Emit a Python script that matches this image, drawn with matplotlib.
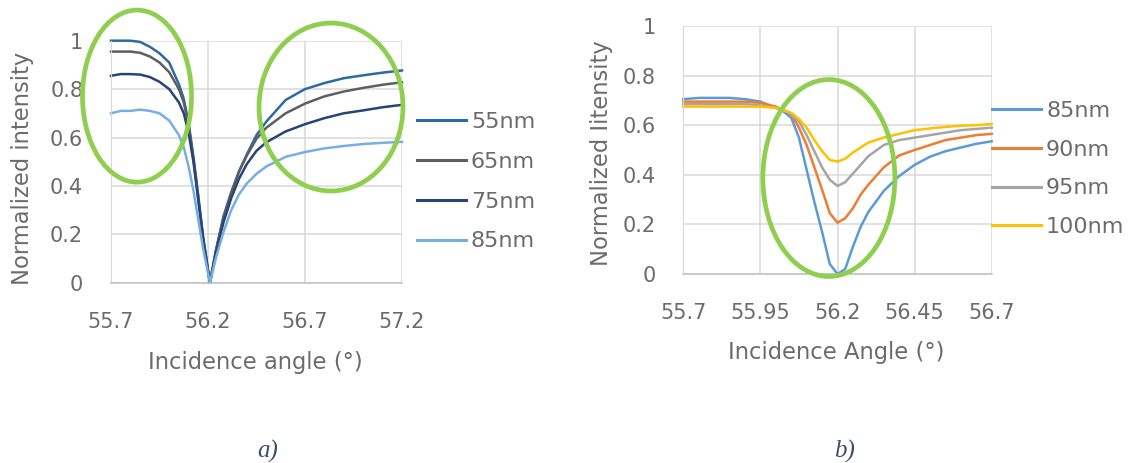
import matplotlib
matplotlib.use("Agg")
import matplotlib.pyplot as plt
from matplotlib.patches import Ellipse

# ---------------- data: panel a ----------------
angle_a = [55.70, 55.75, 55.80, 55.85, 55.90, 55.95, 56.00, 56.05, 56.075, 56.10,
           56.125, 56.15, 56.175, 56.21, 56.24, 56.28, 56.32, 56.36, 56.40, 56.45,
           56.50, 56.60, 56.70, 56.80, 56.90, 57.00, 57.10, 57.20]
i55 = [1.0, 1.0, 1.0, 0.995, 0.975, 0.948, 0.91, 0.82, 0.76, 0.66,
       0.52, 0.36, 0.19, 0.0, 0.13, 0.27, 0.37, 0.46, 0.53, 0.61,
       0.665, 0.755, 0.80, 0.825, 0.845, 0.857, 0.868, 0.877]
i65 = [0.955, 0.955, 0.955, 0.95, 0.935, 0.91, 0.87, 0.80, 0.745, 0.65,
       0.51, 0.35, 0.18, 0.0, 0.13, 0.275, 0.375, 0.46, 0.525, 0.595,
       0.64, 0.70, 0.74, 0.77, 0.79, 0.805, 0.818, 0.828]
i75 = [0.855, 0.862, 0.862, 0.86, 0.85, 0.83, 0.80, 0.745, 0.70, 0.62,
       0.50, 0.34, 0.18, 0.0, 0.12, 0.25, 0.35, 0.43, 0.49, 0.545,
       0.58, 0.625, 0.655, 0.68, 0.70, 0.712, 0.725, 0.735]
i85a = [0.70, 0.71, 0.71, 0.715, 0.71, 0.70, 0.67, 0.61, 0.56, 0.48,
        0.38, 0.26, 0.14, 0.0, 0.10, 0.21, 0.30, 0.365, 0.41, 0.45,
        0.48, 0.52, 0.54, 0.555, 0.565, 0.573, 0.578, 0.582]
labels_a = ["55nm", "65nm", "75nm", "85nm"]
colors_a = ["#2B6AA3", "#5E5E5E", "#254478", "#77AEE3"]

# ---------------- data: panel b ----------------
angle_b = [55.70, 55.75, 55.80, 55.85, 55.90, 55.95, 56.00, 56.025, 56.05, 56.075,
           56.10, 56.125, 56.15, 56.175, 56.20, 56.225, 56.25, 56.275, 56.30, 56.35,
           56.40, 56.45, 56.50, 56.55, 56.60, 56.65, 56.70]
i85b = [0.705, 0.71, 0.71, 0.71, 0.705, 0.695, 0.67, 0.655, 0.63, 0.55,
        0.42, 0.29, 0.17, 0.04, 0.0, 0.02, 0.11, 0.19, 0.25, 0.335,
        0.395, 0.44, 0.473, 0.495, 0.51, 0.525, 0.535]
i90 = [0.695, 0.695, 0.695, 0.695, 0.695, 0.69, 0.675, 0.66, 0.645, 0.59,
       0.52, 0.43, 0.34, 0.245, 0.207, 0.225, 0.265, 0.32, 0.36, 0.43,
       0.478, 0.50, 0.52, 0.54, 0.55, 0.56, 0.565]
i95 = [0.685, 0.685, 0.685, 0.685, 0.685, 0.68, 0.67, 0.66, 0.645, 0.615,
       0.56, 0.495, 0.43, 0.38, 0.355, 0.37, 0.405, 0.44, 0.475, 0.52,
       0.54, 0.55, 0.56, 0.57, 0.58, 0.585, 0.59]
i100 = [0.675, 0.675, 0.675, 0.675, 0.675, 0.675, 0.67, 0.66, 0.65, 0.625,
        0.59, 0.54, 0.495, 0.46, 0.453, 0.465, 0.49, 0.51, 0.53, 0.55,
        0.565, 0.58, 0.587, 0.593, 0.598, 0.60, 0.605]
labels_b = ["85nm", "90nm", "95nm", "100nm"]
colors_b = ["#5B9BD5", "#ED7D31", "#A5A5A5", "#FFC000"]

xticks_a = [55.7, 56.2, 56.7, 57.2]
xticklabels_a = ["55.7", "56.2", "56.7", "57.2"]
xticks_b = [55.7, 55.95, 56.2, 56.45, 56.7]
xticklabels_b = ["55.7", "55.95", "56.2", "56.45", "56.7"]
yticks = [0, 0.2, 0.4, 0.6, 0.8, 1]
yticklabels = ["0", "0.2", "0.4", "0.6", "0.8", "1"]

plt.rcParams['font.family'] = ['DejaVu Sans']
W, H = 1134, 463
fig = plt.figure(figsize=(W / 100, H / 100), dpi=100)
fig.patch.set_facecolor("white")

TXT = "#6B6B6B"
FS_TICK = 15
FS_LEG = 16
FS_LAB = 16.3
GREEN = "#8FCF4F"


def px_axes(l, t, r, b):
    return fig.add_axes([l / W, 1 - b / H, (r - l) / W, (b - t) / H])


def style(ax, xticks, xtl, xlim):
    ax.set_xlim(*xlim)
    ax.set_ylim(0, 1)
    ax.set_xticks(xticks)
    ax.set_xticklabels(xtl)
    ax.set_yticks(yticks)
    ax.set_yticklabels(yticklabels)
    ax.grid(True, color="#D9D9D9", linewidth=1.1)
    ax.set_axisbelow(True)
    for s in ["top", "right"]:
        ax.spines[s].set_visible(False)
    ax.spines["left"].set_color("#D9D9D9")
    ax.spines["bottom"].set_color("#BFBFBF")
    ax.spines["bottom"].set_linewidth(1.1)
    ax.tick_params(length=0, labelsize=FS_TICK, labelcolor=TXT)
    ax.tick_params(axis="x", pad=21)
    ax.tick_params(axis="y", pad=20)


def make_legend(ax, x0, y0, spacing):
    leg = ax.legend(loc="upper left", bbox_to_anchor=(x0 / W, 1 - y0 / H),
                    bbox_transform=fig.transFigure, frameon=False, fontsize=FS_LEG,
                    handlelength=2.2, handletextpad=0.23, labelspacing=spacing,
                    borderaxespad=0, borderpad=0)
    for t in leg.get_texts():
        t.set_color(TXT)
    for l in leg.get_lines():
        l.set_linewidth(2.2)
    return leg


# ---- panel a ----
axa = px_axes(111, 40.7, 402, 282.7)
style(axa, xticks_a, xticklabels_a, (55.7, 57.2))
for y, lab, c in zip([i55, i65, i75, i85a], labels_a, colors_a):
    axa.plot(angle_a, y, color=c, lw=1.8, label=lab, clip_on=False)
make_legend(axa, 417, 112, 0.89)

axa.add_patch(Ellipse((55.834, 0.771), 0.562, 0.711, fill=False, ec=GREEN,
                      lw=3.4, clip_on=False, zorder=5))
axa.add_patch(Ellipse((56.834, 0.726), 0.742, 0.694, fill=False, ec=GREEN,
                      lw=3.4, clip_on=False, zorder=5))

fig.text(23 / W, 1 - 168 / H, "Normalized intensity", rotation=90, ha="center",
         va="center", fontsize=FS_LAB, color=TXT)
fig.text(255 / W, 1 - 362 / H, "Incidence angle (°)", ha="center", va="center",
         fontsize=FS_LAB, color=TXT)

# ---- panel b ----
axb = px_axes(683.3, 26, 991.7, 274)
style(axb, xticks_b, xticklabels_b, (55.7, 56.7))
for y, lab, c in zip([i85b, i90, i95, i100], labels_b, colors_b):
    axb.plot(angle_b, y, color=c, lw=1.8, label=lab, clip_on=False)
make_legend(axb, 992, 101, 0.84)

axb.add_patch(Ellipse((56.172, 0.387), 0.428, 0.794, fill=False, ec=GREEN,
                      lw=3.4, clip_on=False, zorder=5))

fig.text(601 / W, 1 - 153 / H, "Normalized Iitensity", rotation=90, ha="center",
         va="center", fontsize=FS_LAB, color=TXT)
fig.text(836 / W, 1 - 352 / H, "Incidence Angle (°)", ha="center", va="center",
         fontsize=FS_LAB, color=TXT)

# ---- captions ----
fig.text(268 / W, 1 - 451 / H, "a)", ha="center", va="center", fontsize=18,
         style="italic", family=["Liberation Serif", "DejaVu Serif"], color="#3E4C6D")
fig.text(845 / W, 1 - 451 / H, "b)", ha="center", va="center", fontsize=18,
         style="italic", family=["Liberation Serif", "DejaVu Serif"], color="#3E4C6D")

fig.savefig("out.png", dpi=100, facecolor="white")
